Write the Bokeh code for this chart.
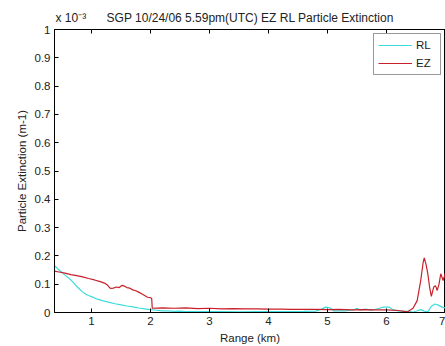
from bokeh.plotting import figure
from bokeh.models import Range1d, LinearAxis, Legend, LegendItem, FixedTicker
from bokeh.embed import file_html
from bokeh.resources import INLINE

title_text = "SGP 10/24/06 5.59pm(UTC) EZ RL Particle Extinction"
multiplier_text = "x 10\u207b\u00b3"
x_label = "Range (km)"
y_label = "Particle Extinction (m-1)"
x_ticks = [1, 2, 3, 4, 5, 6, 7]
y_ticks = [0, 0.1, 0.2, 0.3, 0.4, 0.5, 0.6, 0.7, 0.8, 0.9, 1]
y_tick_labels = ["0", "0.1", "0.2", "0.3", "0.4", "0.5", "0.6", "0.7", "0.8", "0.9", "1"]

# values in units of 1e-3 m^-1
rl_x = [0.37, 0.45, 0.5, 0.55, 0.6, 0.65, 0.7, 0.75, 0.8, 0.85, 0.9, 0.95, 1.0, 1.1, 1.2,
        1.3, 1.4, 1.5, 1.6, 1.7, 1.8, 1.9, 2.0, 2.1, 2.2, 2.3, 2.4, 2.5, 2.6, 2.8, 3.0,
        3.2, 3.5, 3.8, 4.0, 4.3, 4.6, 4.8, 4.9, 4.97, 5.05, 5.1, 5.3, 5.45, 5.5, 5.55,
        5.65, 5.75, 5.9, 5.95, 6.05, 6.1, 6.2, 6.35, 6.45, 6.52, 6.58, 6.64, 6.7, 6.76,
        6.82, 6.88, 6.94, 7.0]
rl_y = [0.166, 0.150, 0.142, 0.132, 0.124, 0.115, 0.104, 0.092, 0.082, 0.072, 0.065, 0.060,
        0.056, 0.047, 0.041, 0.036, 0.031, 0.027, 0.023, 0.020, 0.016, 0.013, 0.010, 0.008,
        0.006, 0.006, 0.004, 0.005, 0.003, 0.003, 0.003, 0.003, 0.002, 0.003, 0.003, 0.003,
        0.004, 0.005, 0.012, 0.019, 0.016, 0.006, 0.006, 0.010, 0.015, 0.009, 0.012, 0.008,
        0.016, 0.019, 0.019, 0.010, 0.006, 0.004, 0.001, 0.006, 0.010, 0.005, 0.002, 0.022,
        0.030, 0.026, 0.019, 0.016]

ez_x = [0.37, 0.45, 0.55, 0.65, 0.75, 0.85, 0.95, 1.05, 1.15, 1.22, 1.27, 1.32, 1.37, 1.42,
        1.47, 1.52, 1.56, 1.6, 1.65, 1.7, 1.75, 1.8, 1.85, 1.9, 1.95, 2.0, 2.02, 2.03, 2.2,
        2.4, 2.6, 2.8, 3.0, 3.2, 3.4, 3.6, 3.8, 4.0, 4.2, 4.4, 4.6, 4.8, 5.0, 5.2, 5.4, 5.6,
        5.8, 6.0, 6.2, 6.35, 6.45, 6.52, 6.58, 6.62, 6.64, 6.67, 6.7, 6.73, 6.76, 6.8, 6.83,
        6.86, 6.89, 6.92, 6.96, 7.0]
ez_y = [0.146, 0.143, 0.139, 0.134, 0.130, 0.126, 0.120, 0.115, 0.109, 0.104, 0.097, 0.085,
        0.086, 0.090, 0.088, 0.096, 0.093, 0.088, 0.086, 0.080, 0.077, 0.072, 0.066, 0.060,
        0.054, 0.052, 0.050, 0.015, 0.016, 0.015, 0.016, 0.014, 0.015, 0.013, 0.014, 0.013,
        0.013, 0.012, 0.012, 0.011, 0.011, 0.011, 0.010, 0.011, 0.009, 0.010, 0.009, 0.009,
        0.007, 0.002, 0.015, 0.042, 0.113, 0.175, 0.193, 0.170, 0.137, 0.090, 0.057, 0.090,
        0.095, 0.078, 0.100, 0.137, 0.113, 0.140]

FONT = "Liberation Sans"
TXT = "#222222"

p = figure(width=445, height=346, x_range=Range1d(0.373, 7.0), y_range=Range1d(0, 1),
           output_backend="svg", toolbar_location=None,
           min_border_left=54, min_border_right=0, min_border_top=29, min_border_bottom=30)
# multiplier and title share one line, separated by non-collapsing em/en spaces
p.title.text = multiplier_text + "\u2003\u2002\u2009" + title_text
p.title.align = "left"
p.title.offset = 1
p.title.text_font = FONT
p.title.text_font_size = "12px"
p.title.text_font_style = "normal"
p.title.text_color = TXT
p.xgrid.visible = False
p.ygrid.visible = False
p.outline_line_color = "#000000"
p.background_fill_color = "white"
p.border_fill_color = "white"

for ax in p.xaxis:
    ax.ticker = FixedTicker(ticks=x_ticks)
    ax.axis_label = x_label
for ax in p.yaxis:
    ax.ticker = FixedTicker(ticks=y_ticks)
    ax.axis_label = y_label
    ax.major_label_overrides = {t: l for t, l in zip(y_ticks, y_tick_labels)}

for ax in list(p.xaxis) + list(p.yaxis):
    ax.major_tick_in = 4
    ax.major_tick_out = 0
    ax.minor_tick_line_color = None
    ax.axis_line_color = "#000000"
    ax.major_tick_line_color = "#000000"
    ax.major_label_text_font = FONT
    ax.major_label_text_font_size = "11.5px"
    ax.major_label_text_color = TXT
    ax.axis_label_text_font = FONT
    ax.axis_label_text_font_size = "11.5px"
    ax.axis_label_text_font_style = "normal"
    ax.axis_label_text_color = TXT
    ax.major_label_standoff = 4
    ax.axis_label_standoff = 4

top = LinearAxis(ticker=FixedTicker(ticks=x_ticks), major_tick_in=4, major_tick_out=0,
                 minor_tick_line_color=None, major_label_standoff=0,
                 major_label_overrides={t: "" for t in x_ticks},
                 axis_line_color="#000000")
p.add_layout(top, "above")

rl = p.line(rl_x, rl_y, line_color="#3fdcdc", line_width=1.2)
ez = p.line(ez_x, ez_y, line_color="#c8202a", line_width=1.2)

legend = Legend(items=[LegendItem(label="RL", renderers=[rl]), LegendItem(label="EZ", renderers=[ez])],
                location="top_right", label_text_font=FONT, label_text_font_size="11.5px",
                label_text_color=TXT, border_line_color="#333333", border_line_width=1,
                glyph_width=34, glyph_height=14, label_standoff=4, spacing=4, padding=4,
                margin=4, label_height=14)
p.add_layout(legend)

open("out.html", "w").write(file_html(p, INLINE))
